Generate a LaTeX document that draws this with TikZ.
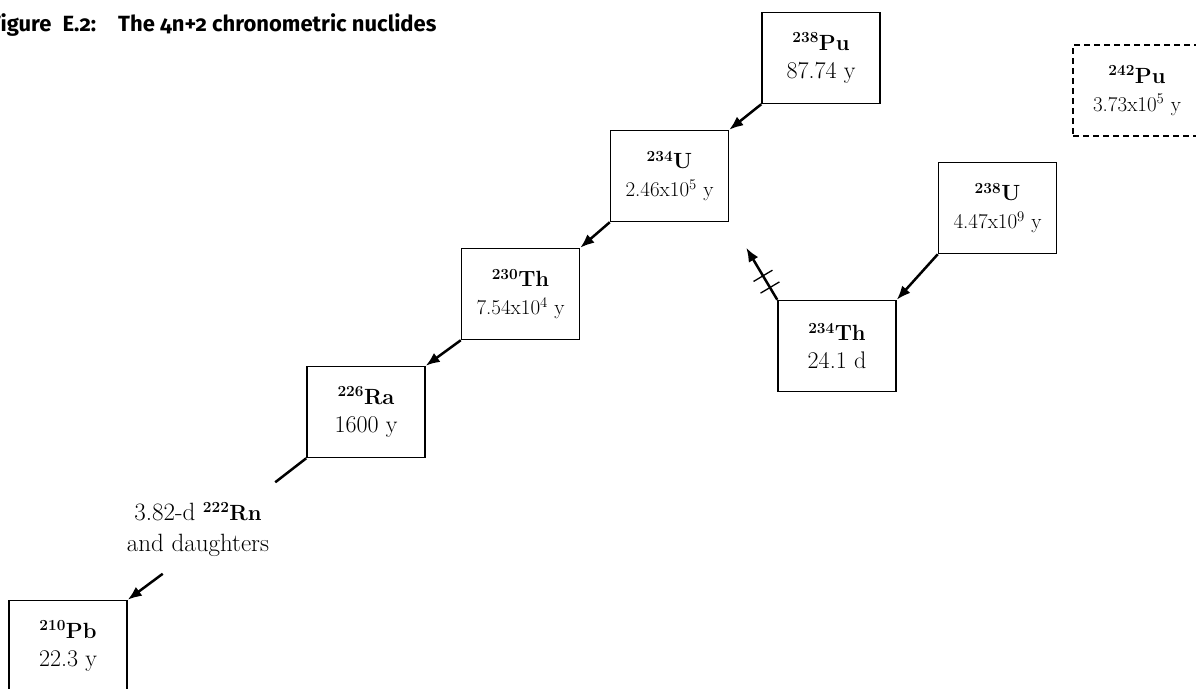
\documentclass[tikz,border=0pt]{standalone}
\usepackage{fontspec}
\newfontfamily\titlefont[Numbers=OldStyle]{Fira Sans}
\usetikzlibrary{arrows.meta, positioning}

\newcommand{\nuc}[2]{{\fontsize{22}{28}\selectfont\bfseries\textsuperscript{#1}#2}}

\tikzset{
  nuclide/.style={draw, line width=1.5pt, minimum width=118pt, minimum height=91pt,
    inner sep=0pt, align=center, font=\fontsize{24}{28}\selectfont},
  longlived/.style={nuclide, font=\fontsize{21}{28}\selectfont},
  decay/.style={-{Latex[length=14pt,width=11pt]}, line width=2.5pt},
  hashmark/.style={draw, line width=1.3pt, minimum width=0pt, minimum height=22pt,
    inner sep=0pt, sloped}
}

\begin{document}
\begin{tikzpicture}[x=1pt, y=-1pt, on grid]

  \useasboundingbox (0,0) rectangle (1196,688);
  \clip (0,0) rectangle (1196,688);

  \node[anchor=base east, font=\titlefont\bfseries\fontsize{22}{26}\selectfont] (title) at (440,31)
    {Figure\hspace{.5em}E.2:\hspace{1em}The 4n+2 chronometric nuclides};

  % main chain
  \node[nuclide] (pu238) at (821,58) {\nuc{238}{Pu}\\87.74 y};
  \node[longlived, below left=118pt and 151.5pt of pu238] (u234) {\nuc{234}{U}\\2.46x10\textsuperscript{5} y};
  \node[longlived, below left=118pt and 149pt of u234] (th230) {\nuc{230}{Th}\\7.54x10\textsuperscript{4} y};
  \node[nuclide, below left=118pt and 154.5pt of th230] (ra226) {\nuc{226}{Ra}\\1600 y};
  \node[align=center, font=\fontsize{25}{31}\selectfont, below left=117.5pt and 168pt of ra226] (rn222)
    {3.82-d \nuc{222}{Rn}\\and daughters};
  \node[nuclide, below left=234pt and 298pt of ra226] (pb210) {\nuc{210}{Pb}\\22.3 y};

  % side branch
  \node[longlived] (u238) at (997.5,208) {\nuc{238}{U}\\4.47x10\textsuperscript{9} y};
  \node[nuclide, below left=138pt and 160.5pt of u238] (th234) {\nuc{234}{Th}\\24.1 d};
  \node[longlived, dash pattern=on 6pt off 4pt, line width=1.3pt, minimum width=128pt] (pu242) at (1137,90.5)
    {\nuc{242}{Pu}\\3.73x10\textsuperscript{5} y};

  \coordinate[below left=24pt and 31pt of ra226.south west] (rnin);
  \coordinate[above right=26pt and 35pt of pb210.north east] (rnout);
  \coordinate[above left=52pt and 31pt of th234.north west] (thback);

  \path[decay] (pu238.south west) edge (u234.north east);
  \path[decay] (u234.south west) edge (th230.north east);
  \path[decay] (th230.south west) edge (ra226.north east);
  \path[decay] (rnout) edge (pb210.north east);
  \path[decay] (u238.south west) edge (th234.north east);
  \draw[line width=2.5pt] (ra226.south west) -- (rnin);
  \draw[decay] (th234.north west) -- (thback)
    node[hashmark, pos=.235] {} node[hashmark, pos=.46] {};

\end{tikzpicture}
\end{document}
